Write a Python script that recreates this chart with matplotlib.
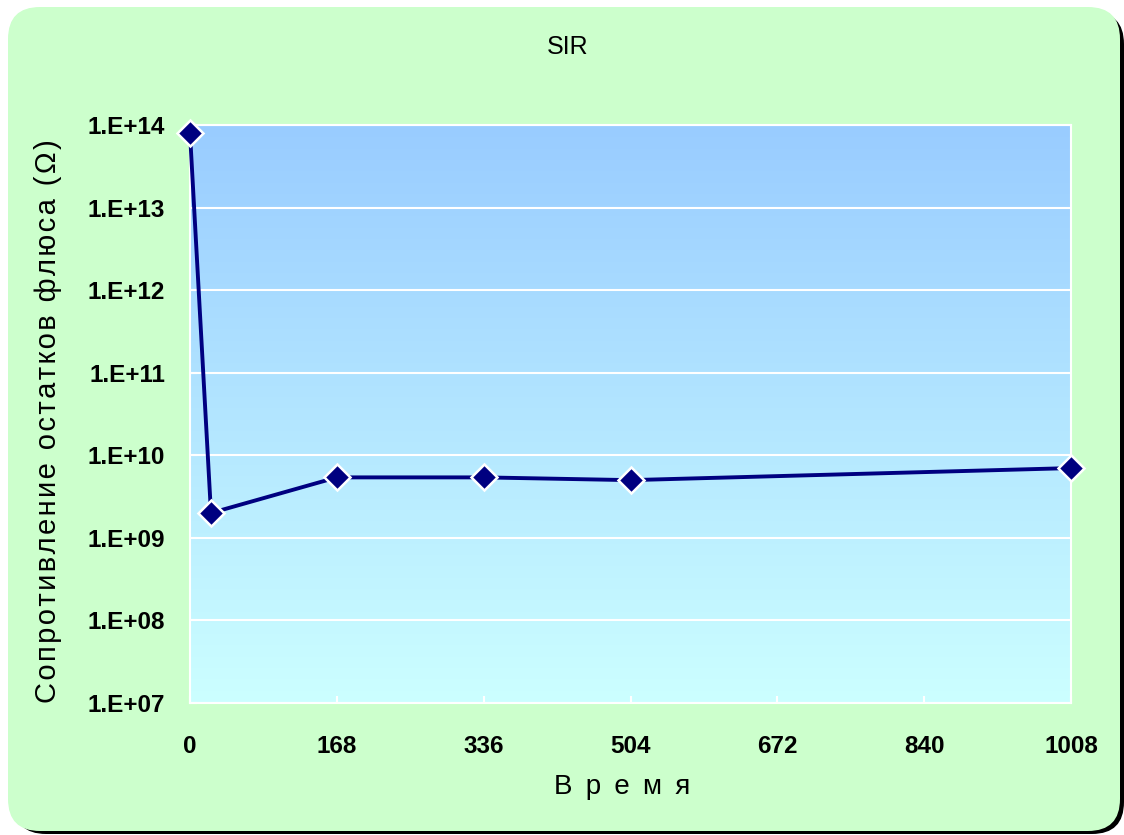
import numpy as np
import matplotlib
matplotlib.use("Agg")
import matplotlib.pyplot as plt
from matplotlib.patches import FancyBboxPatch
from matplotlib.colors import LinearSegmentedColormap
from matplotlib.ticker import NullLocator

# Data
hours = [0, 24, 168, 336, 504, 1008]
resistance = [8.0e13, 2.0e9, 5.4e9, 5.4e9, 5.0e9, 7.0e9]
x_ticks = [0, 168, 336, 504, 672, 840, 1008]
y_ticks = [1e7, 1e8, 1e9, 1e10, 1e11, 1e12, 1e13, 1e14]
y_tick_labels = ["1.E+07", "1.E+08", "1.E+09", "1.E+10", "1.E+11", "1.E+12", "1.E+13", "1.E+14"]
title = "SIR"
x_label = "В р е м я"
y_label = "Сопротивление остатков флюса (Ω)"

plt.rcParams['font.family'] = ['Liberation Sans', 'DejaVu Sans']

W, H = 1124, 835
fig = plt.figure(figsize=(W / 100, H / 100), dpi=100)
fig.patch.set_facecolor('white')

# rounded background with shadow (pixel coords)
shadow = FancyBboxPatch((14, 1), 1110, 822, boxstyle="round,pad=0,rounding_size=32",
                        transform=None, facecolor='black', edgecolor='none', zorder=-3)
bg = FancyBboxPatch((8, 4), 1112, 824, boxstyle="round,pad=0,rounding_size=32",
                    transform=None, facecolor='#CCFFCC', edgecolor='none', zorder=-2)
fig.patches.extend([shadow, bg])

ax = fig.add_axes([190 / W, 1 - 703 / H, (1071 - 190) / W, (703 - 125) / H])
ax.set_facecolor('none')

# gradient background
cmap = LinearSegmentedColormap.from_list('g', ['#CCFFFF', '#99CCFF'])
grad = np.linspace(0, 1, 256).reshape(-1, 1)
ax.imshow(grad, aspect='auto', cmap=cmap, origin='lower', extent=[0, 1, 0, 1],
          transform=ax.transAxes, zorder=0)

ax.set_yscale('log')
ax.set_xlim(0, 1008)
ax.set_ylim(1e7, 1e14)
ax.set_xticks(x_ticks)
ax.set_xticklabels([str(t) for t in x_ticks])
ax.set_yticks(y_ticks)
ax.set_yticklabels(y_tick_labels)
ax.yaxis.set_minor_locator(NullLocator())

ax.grid(axis='y', color='white', linewidth=1.5, zorder=1)
for s in ax.spines.values():
    s.set_color('white')
    s.set_linewidth(1.5)

ax.tick_params(axis='both', colors='white', direction='in', length=5, width=1.5,
               labelcolor='black', labelsize=17.5)
for lab in ax.get_xticklabels() + ax.get_yticklabels():
    lab.set_fontweight('bold')
ax.tick_params(axis='y', pad=18)
ax.tick_params(axis='x', pad=23)

ax.plot(hours, resistance, color='#000080', linewidth=2.8, marker='D', markersize=13,
        markerfacecolor='#000080', markeredgecolor='white', markeredgewidth=1.8,
        zorder=5, clip_on=False)

fig.text(568 / W, 1 - 47 / H, title, ha='center', va='center', fontsize=18)
fig.text(622 / W, 1 - 787 / H, x_label.replace(" ", " \u2009"), ha='center', va='center',
         fontsize=20)
fig.text(48 / W, 1 - 421 / H, "\u200a".join(list(y_label)), ha='center', va='center',
         rotation=90, fontsize=21)

fig.savefig('out.png', dpi=100)
